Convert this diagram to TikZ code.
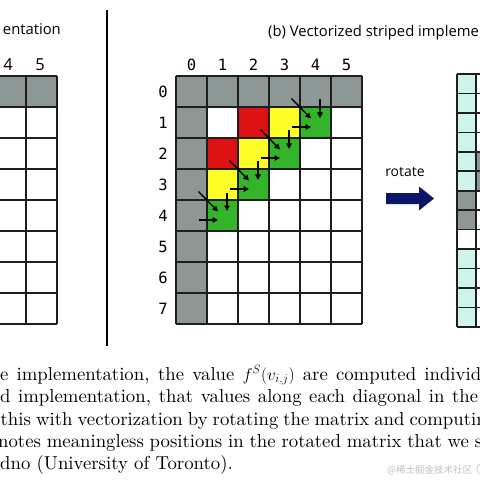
\documentclass[tikz,border=0pt]{standalone}
\usepackage{fontspec}
\usetikzlibrary{arrows.meta}
\setmainfont{lmroman10-regular.otf}[ItalicFont=lmroman10-italic.otf,BoldFont=lmroman10-bold.otf]
\newfontfamily\sansf{Open Sans}
\newfontfamily\monof{DejaVu Sans Mono}
\newfontfamily\cjkf{Noto Sans CJK SC}
\definecolor{cellgray}{RGB}{141,151,150}
\definecolor{cellred}{RGB}{222,18,18}
\definecolor{cellyellow}{RGB}{255,255,40}
\definecolor{cellgreen}{RGB}{52,180,40}
\definecolor{cellcyan}{RGB}{205,245,236}
\definecolor{navyarrow}{RGB}{12,22,104}
\definecolor{gridline}{RGB}{30,30,30}
\newcommand{\capline}[2]{\hbox to #1bp{#2}}
\tikzset{
  gridpen/.style={draw=gridline,line width=1.6bp},
  cellarrow/.style={line width=1.4bp,-{Triangle[length=5.5bp,width=5.5bp]}},
  titletext/.style={font=\sansf\fontsize{14.8bp}{17bp}\selectfont,inner sep=0pt},
  rottext/.style={font=\sansf\fontsize{14bp}{16bp}\selectfont,inner sep=0pt},
  monolabel/.style={font=\monof\fontsize{15.5bp}{17bp}\selectfont,inner sep=0pt,anchor=base},
  sanslabel/.style={font=\sansf\fontsize{16.5bp}{18bp}\selectfont,inner sep=0pt,anchor=base},
  captionline/.style={font=\fontsize{18.75bp}{22bp}\selectfont,inner sep=0pt,anchor=base west},
}
\begin{document}
\begin{tikzpicture}[x=1bp,y=-1bp]
\useasboundingbox (0,0) rectangle (480,480);
\clip (0,0) rectangle (480,480);
\fill[white] (0,0) rectangle (480,480);

% ---------- left grid (clipped) ----------
\fill[cellgray] (-129,76) rectangle (57,107);
\foreach \i in {0,...,6} \draw[gridpen] (-129+31*\i,76) -- (-129+31*\i,324);
\foreach \j in {0,...,8} \draw[gridpen] (-129,76+31*\j) -- (57,76+31*\j);
\node[sanslabel] (la4) at (8,70.5) {4};
\node[sanslabel] (la5) at (40,70.5) {5};
\node[titletext,anchor=base east] (titlea) at (61,35) {entation};

% separator
\draw[line width=2bp,black] (107,10) -- (107,346);

% ---------- middle grid ----------
\fill[cellgray] (176,76) rectangle (362,107);
\fill[cellgray] (176,76) rectangle (207,324);
\fill[cellred] (238,107) rectangle (269,138);
\fill[cellred] (207,138) rectangle (238,169);
\fill[cellyellow] (269,107) rectangle (300,138);
\fill[cellyellow] (238,138) rectangle (269,169);
\fill[cellyellow] (207,169) rectangle (238,200);
\fill[cellgreen] (300,107) rectangle (331,138);
\fill[cellgreen] (269,138) rectangle (300,169);
\fill[cellgreen] (238,169) rectangle (269,200);
\fill[cellgreen] (207,200) rectangle (238,231);
\foreach \i in {0,...,6} \draw[gridpen] (176+31*\i,76) -- (176+31*\i,324);
\foreach \j in {0,...,8} \draw[gridpen] (176,76+31*\j) -- (362,76+31*\j);
\foreach \c in {0,...,5} \node[monolabel] (col\c) at (191.5+31*\c,70.5) {\c};
\foreach \r in {0,...,7} \node[monolabel] (row\r) at (163,97.2+31*\r) {\r};
% arrows into green cells
\foreach \r/\c in {1/4,2/3,3/2,4/1}{
  \pgfmathsetmacro{\X}{176+31*\c}
  \pgfmathsetmacro{\Y}{76+31*\r}
  \draw[cellarrow] (\X-8.5,\Y-8.5) -- (\X+11,\Y+11.5);
  \draw[cellarrow] (\X+20,\Y-7.5) -- (\X+20,\Y+11);
  \draw[cellarrow] (\X-8.5,\Y+20) -- (\X+11,\Y+20);
}
\node[titletext,anchor=base west] (titleb) at (268,37) {(b) Vectorized striped impleme};

% ---------- rotate arrow ----------
\node[rottext,anchor=base] (rot) at (405,177) {rotate};
\fill[navyarrow] (386,193) -- (419,193) -- (419,186.5) -- (434,198.5) -- (419,210.5) -- (419,204) -- (386,204) -- cycle;

% ---------- right grid (clipped) ----------
\foreach \j in {0,...,12}{
  \fill[cellcyan] (457,74+19.46*\j) rectangle (476,74+19.46*\j+19.46);
}
\fill[cellgray] (457,74+19.46*6) rectangle (476,74+19.46*8);
\fill[white] (457,74+19.46*8) rectangle (476,74+19.46*9);
\fill[cellgray] (476,74+19.46*4) rectangle (495,74+19.46*6);
\foreach \i in {0,1,2} \draw[gridpen] (457+19*\i,74) -- (457+19*\i,327);
\foreach \j in {0,...,13} \draw[gridpen] (457,74+19.46*\j) -- (495,74+19.46*\j);

% ---------- caption ----------
\node[captionline] (cap1) at (0,380) {\capline{481}{e implementation, the value $f^S(v_{i,j})$ are computed individ}};
\node[captionline] (cap2) at (0,402.7) {\capline{478}{d implementation, that values along each diagonal in the}};
\node[captionline] (cap3) at (0.5,425) {\capline{486}{this with vectorization by rotating the matrix and computin}};
\node[captionline] (cap4) at (-2,447.3) {\capline{484}{notes meaningless positions in the rotated matrix that we s}};
\node[captionline] (cap5) at (0,469.3) {dno (University of Toronto).};
\node[inner sep=0pt,anchor=base west,text=black!25,font=\cjkf\fontsize{9.5bp}{11bp}\selectfont] (wm) at (387,473) {@稀土掘金技术社区};
\draw[black!20,line width=0.8bp] (483,469) circle (6);
\end{tikzpicture}
\end{document}
